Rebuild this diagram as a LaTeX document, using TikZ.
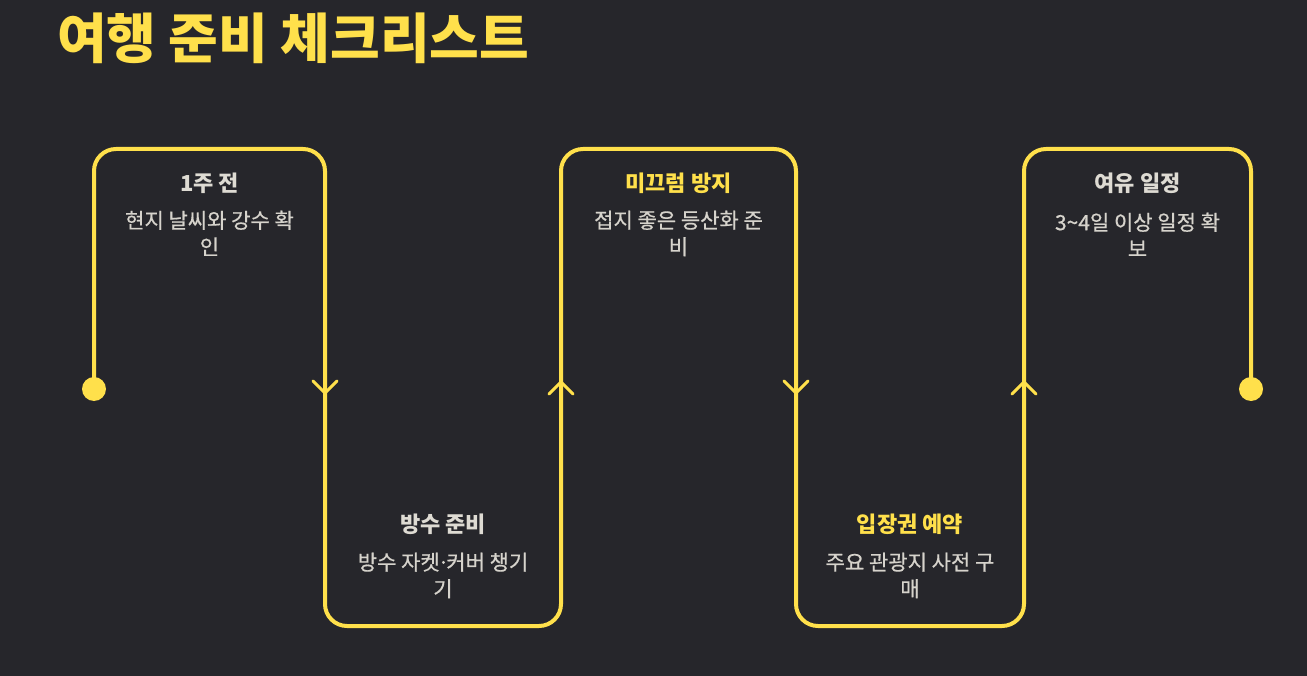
\documentclass[tikz,border=0pt]{standalone}
\usepackage{fontspec}
\setmainfont{Noto Sans CJK KR}
\newfontfamily\kr{Noto Sans CJK KR}
\newfontfamily\krm[FakeBold=0.6]{Noto Sans CJK KR}
\definecolor{bg}{HTML}{26262B}
\definecolor{ylw}{HTML}{FFE04B}
\definecolor{lgt}{HTML}{DEDBD3}
\definecolor{txt}{HTML}{D6D3CC}
\newcommand{\mdot}{\kern-0.1em·\kern-0.15em}
\tikzset{
  route/.style={draw=ylw, line width=4pt, rounded corners=22pt},
  chev/.style={draw=ylw, line width=3pt, line cap=round, line join=miter},
  ttl/.style={font=\kr\bfseries\fontsize{22}{26}\selectfont, text=lgt, inner sep=0pt, anchor=center},
  ttly/.style={ttl, text=ylw},
  dsc/.style={font=\krm\fontsize{21}{26.5}\selectfont, text=txt, inner sep=0pt, align=center, anchor=north},
  dotc/.style={fill=ylw, circle, inner sep=0pt, minimum size=24pt}
}
\begin{document}
\begin{tikzpicture}[x=1pt,y=-1pt]
\fill[bg] (0,0) rectangle (1307,676);
\useasboundingbox (0,0) rectangle (1307,676);
\node[anchor=west, inner sep=0pt, text=ylw, font=\kr\bfseries\fontsize{54}{62}\selectfont] (title) at (57,38) {여행 준비 체크리스트};
% route coordinates
\coordinate (s) at (94,389);
\coordinate (c1) at (94,149);
\coordinate (c2) at (325,149);
\coordinate (c3) at (325,626);
\coordinate (c4) at (561,626);
\coordinate (c5) at (561,149);
\coordinate (c6) at (796,149);
\coordinate (c7) at (796,626);
\coordinate (c8) at (1024,626);
\coordinate (c9) at (1024,149);
\coordinate (c10) at (1251,149);
\coordinate (e) at (1251,389);
\draw[route] (s) -- (c1) -- (c2) -- (c3) -- (c4) -- (c5) -- (c6) -- (c7) -- (c8) -- (c9) -- (c10) -- (e);
\node[dotc] (d1) at (s) {};
\node[dotc] (d2) at (e) {};
% chevrons
\draw[chev] (313,381) -- (325,393) -- (337,381);
\draw[chev] (549,394) -- (561,382) -- (573,394);
\draw[chev] (784,381) -- (796,393) -- (808,381);
\draw[chev] (1012,394) -- (1024,382) -- (1036,394);
% texts
\node[ttl] (t1) at (209.5,183) {1주 전};
\node[dsc] (b1) at (209.5,210.5) {현지 날씨와 강수 확\\인};
\node[ttl] (t2) at (443,524) {방수 준비};
\node[dsc] (b2) at (443,552.5) {방수 자켓\mdot{}커버 챙기\\기};
\node[ttly] (t3) at (678.5,183) {미끄럼 방지};
\node[dsc] (b3) at (678.5,210.5) {접지 좋은 등산화 준\\비};
\node[ttly] (t4) at (910,524) {입장권 예약};
\node[dsc] (b4) at (910,552.5) {주요 관광지 사전 구\\매};
\node[ttl] (t5) at (1137.5,183) {여유 일정};
\node[dsc] (b5) at (1137.5,212.5) {3\textasciitilde4일 이상 일정 확\\보};
\end{tikzpicture}
\end{document}
